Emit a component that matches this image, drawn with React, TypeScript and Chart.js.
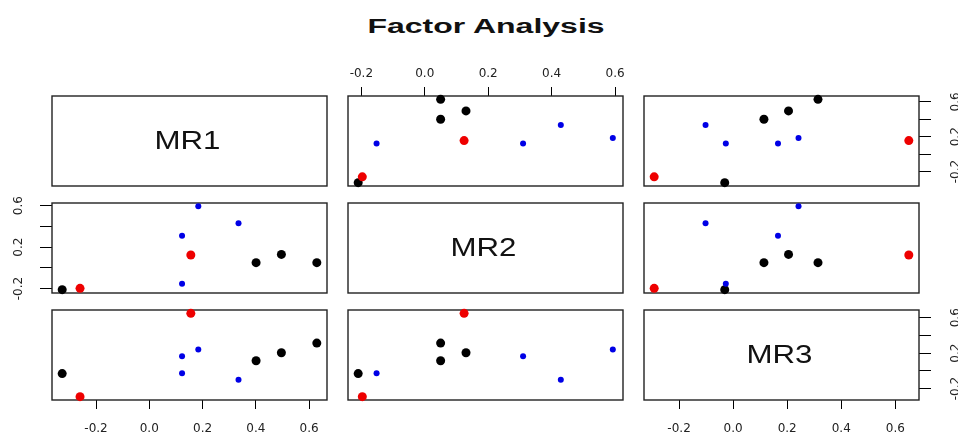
import React, { useEffect, useRef } from 'react';
import { Chart, registerables } from 'chart.js';

Chart.register(...registerables);

// ---- data ----
const titleText = 'Factor Analysis';
const factorNames = ['MR1', 'MR2', 'MR3'];
const MR1 = [0.629, 0.496, 0.401, -0.327, 0.184, 0.335, 0.123, 0.123, 0.156, -0.26];
const MR2 = [0.05, 0.13, 0.05, -0.21, 0.593, 0.429, 0.31, -0.152, 0.124, -0.197];
const MR3 = [0.314, 0.205, 0.114, -0.031, 0.242, -0.102, 0.166, -0.027, 0.65, -0.292];
const pointGroup = ['black', 'black', 'black', 'black', 'blue', 'blue', 'blue', 'blue', 'red', 'red'];
const tickValues = [-0.2, 0, 0.2, 0.4, 0.6];
const yLabelValues = [-0.2, 0.2, 0.6];

const factors = [MR1, MR2, MR3];

// ---- styles / layout ----
const COLORS: Record<string, string> = { black: '#000000', blue: '#0000E6', red: '#EE0000' };
const RADII: Record<string, number> = { black: 4.5, blue: 3, red: 4.5 };
const COL_LEFT = [52, 347.5, 643.5];
const ROW_TOP = [96, 203, 310];
const PW = 275;
const PH = 90;
const M = 50;
const FONT = 'Liberation Sans, Arial, sans-serif';
const TICK_FONT = 'DejaVu Sans, sans-serif';

function range(vals: number[]): [number, number] {
  const lo = Math.min(...vals);
  const hi = Math.max(...vals);
  const p = (hi - lo) * 0.04;
  return [lo - p, hi + p];
}

const framePlugin = {
  id: 'frame',
  beforeDatasetsDraw(chart: any) {
    const { ctx, chartArea } = chart;
    ctx.save();
    ctx.strokeStyle = '#222';
    ctx.lineWidth = 1.4;
    ctx.strokeRect(chartArea.left, chartArea.top, chartArea.right - chartArea.left, chartArea.bottom - chartArea.top);
    ctx.restore();
  },
  afterDraw(chart: any) {
    const label = chart.options.plugins.frame?.label;
    if (!label) return;
    const { ctx, chartArea } = chart;
    ctx.save();
    ctx.fillStyle = '#111';
    ctx.font = `25px ${FONT}`;
    ctx.textAlign = 'center';
    ctx.textBaseline = 'middle';
    ctx.translate((chartArea.left + chartArea.right) / 2 - 2, (chartArea.top + chartArea.bottom) / 2 + 1);
    ctx.scale(1.25, 1);
    ctx.fillText(label, 0, 0);
    ctx.restore();
  },
};

function Panel({ r, c }: { r: number; c: number }) {
  const ref = useRef<HTMLCanvasElement>(null);
  useEffect(() => {
    const xVals = factors[c];
    const yVals = factors[r];
    const [xmin, xmax] = range(xVals);
    const [ymin, ymax] = range(yVals);
    const showTop = r === 0 && c === 1;
    const showBottom = r === 2 && (c === 0 || c === 2);
    const showLeft = c === 0 && r === 1;
    const showRight = c === 2 && (r === 0 || r === 2);
    const showX = showTop || showBottom;
    const showY = showLeft || showRight;
    const diag = r === c;
    const datasets = diag
      ? []
      : [
          {
            data: xVals.map((x, i) => ({ x, y: yVals[i] })),
            pointBackgroundColor: pointGroup.map((g) => COLORS[g]),
            pointRadius: pointGroup.map((g) => RADII[g]),
            pointBorderWidth: 0,
            showLine: false,
            clip: false as any,
          },
        ];
    const setTicks = (s: any) => {
      s.ticks = tickValues.map((v) => ({ value: v }));
    };
    const chart = new Chart(ref.current!, {
      type: 'scatter',
      data: { datasets },
      plugins: [framePlugin],
      options: {
        animation: false,
        responsive: false,
        events: [],
        layout: {
          padding: {
            left: showLeft ? 0 : M,
            right: showRight ? 0 : M,
            top: showTop ? 0 : M,
            bottom: showBottom ? 0 : M,
          },
        },
        plugins: {
          legend: { display: false },
          tooltip: { enabled: false },
          frame: { label: diag ? factorNames[r] : '' },
        } as any,
        scales: {
          x: {
            type: 'linear',
            position: showTop ? 'top' : 'bottom',
            display: showX,
            min: xmin,
            max: xmax,
            afterBuildTicks: setTicks,
            afterFit: (s: any) => {
              s.height = showX ? M : 0;
            },
            ticks: {
              autoSkip: false,
              maxRotation: 0,
              minRotation: 0,
              padding: showTop ? 6 : 13,
              color: '#222',
              font: { family: TICK_FONT, size: 12 },
              callback: (v: any) => Number(v).toFixed(1),
            },
            grid: { drawOnChartArea: false, drawTicks: true, tickLength: 9, color: '#000', lineWidth: 1 },
            border: { display: false },
          },
          y: {
            type: 'linear',
            position: showRight ? 'right' : 'left',
            display: showY,
            min: ymin,
            max: ymax,
            afterBuildTicks: setTicks,
            afterFit: (s: any) => {
              s.width = showY ? M : 0;
            },
            ticks: {
              autoSkip: false,
              minRotation: 90,
              maxRotation: 90,
              crossAlign: 'center',
              padding: showRight ? 13 : 9,
              color: '#222',
              font: { family: TICK_FONT, size: 12 },
              callback: (v: any) =>
                yLabelValues.some((t) => Math.abs(t - Number(v)) < 1e-9) ? Number(v).toFixed(1) : '',
            },
            grid: { drawOnChartArea: false, drawTicks: true, tickLength: 12, color: '#000', lineWidth: 1 },
            border: { display: false },
          },
        },
      } as any,
    });
    return () => chart.destroy();
  }, [r, c]);
  return (
    <canvas
      ref={ref}
      width={PW + 2 * M}
      height={PH + 2 * M}
      style={{
        position: 'absolute',
        left: COL_LEFT[c] - M,
        top: ROW_TOP[r] - M,
        width: PW + 2 * M,
        height: PH + 2 * M,
      }}
    />
  );
}

export default function App() {
  const cells: React.ReactNode[] = [];
  for (let r = 0; r < 3; r++) {
    for (let c = 0; c < 3; c++) {
      cells.push(<Panel key={`${r}-${c}`} r={r} c={c} />);
    }
  }
  return (
    <div
      style={{
        position: 'fixed',
        left: 0,
        top: 0,
        width: 958,
        height: 433,
        overflow: 'hidden',
        background: '#fff',
      }}
    >
      <div
        style={{
          position: 'absolute',
          left: 486,
          top: 16,
          whiteSpace: 'nowrap',
          font: `bold 20px ${FONT}`,
          lineHeight: '20px',
          color: '#111',
          transform: 'translateX(-50%) scaleX(1.6)',
        }}
      >
        {titleText}
      </div>
      {cells}
    </div>
  );
}
